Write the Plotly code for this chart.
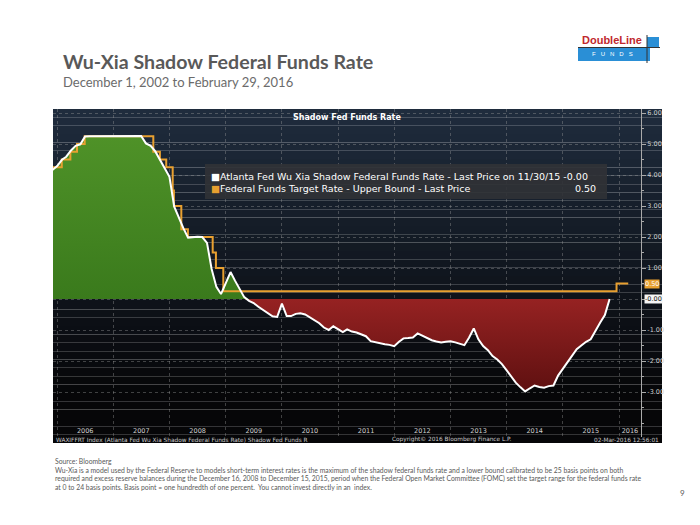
import plotly.graph_objects as go
import pandas as pd

# ---------------- data ----------------
shadow_first_month = "2005-12-01"
shadow_rate = [
    4.16,
    4.29, 4.49, 4.59, 4.79, 4.94, 4.99, 5.24, 5.25, 5.25, 5.25, 5.25, 5.24,
    5.25, 5.26, 5.26, 5.25, 5.25, 5.25, 5.26, 5.02, 4.94, 4.76, 4.49, 4.24,
    3.94, 2.98, 2.61, 2.28, 1.98, 2.00, 2.01, 2.00, 1.81, 0.97, 0.39, 0.16,
    0.52, 0.87, 0.60, 0.33, 0.06, -0.06, -0.13, -0.25, -0.36, -0.45, -0.56, -0.58,
    -0.15, -0.55, -0.55, -0.48, -0.46, -0.50, -0.60, -0.68, -0.78, -0.92, -1.00, -0.88,
    -0.98, -1.07, -0.98, -1.05, -1.08, -1.14, -1.20, -1.36, -1.40, -1.43, -1.46, -1.48,
    -1.52, -1.38, -1.27, -1.26, -1.24, -1.11, -1.18, -1.26, -1.33, -1.37, -1.40, -1.38,
    -1.36, -1.40, -1.44, -1.49, -1.25, -0.95, -1.30, -1.52, -1.65, -1.84, -1.95, -2.10,
    -2.30, -2.50, -2.70, -2.85, -2.98, -2.88, -2.79, -2.84, -2.86, -2.81, -2.79, -2.47,
    -2.25, -2.03, -1.82, -1.62, -1.50, -1.38, -1.30, -1.02, -0.76, -0.52, 0.00,
]

target_dates = [
    "2005-12-01", "2006-01-31", "2006-03-28", "2006-05-10", "2006-06-29",
    "2007-09-18", "2007-10-31", "2007-12-11", "2008-01-22", "2008-01-30",
    "2008-03-18", "2008-04-30", "2008-10-08", "2008-10-29", "2008-12-16",
    "2015-12-16", "2016-03-01",
]
target_upper = [
    4.25, 4.50, 4.75, 5.00, 5.25,
    4.75, 4.50, 4.25, 3.50, 3.00,
    2.25, 2.00, 1.50, 1.00, 0.25,
    0.50, 0.50,
]

year_labels = ["2006", "2007", "2008", "2009", "2010", "2011",
               "2012", "2013", "2014", "2015", "2016"]
year_label_dates = ["2006-07-02", "2007-07-02", "2008-07-02", "2009-07-02",
                    "2010-07-02", "2011-07-02", "2012-07-02", "2013-07-02",
                    "2014-07-02", "2015-07-02", "2016-03-12"]
year_starts = ["2006-01-01", "2007-01-01", "2008-01-01", "2009-01-01",
               "2010-01-01", "2011-01-01", "2012-01-01", "2013-01-01",
               "2014-01-01", "2015-01-01", "2016-01-01"]

y_ticks = [-3, -2, -1, 0, 1, 2, 3, 4, 5, 6]
y_tick_text = ["-3.00", "-2.00", "-1.00", "", "1.00", "2.00",
               "3.00", "4.00", "5.00", "6.00"]

shadow_dates = pd.date_range(shadow_first_month, periods=len(shadow_rate), freq="MS")
pos_part = [max(v, 0) for v in shadow_rate]
neg_part = [min(v, 0) for v in shadow_rate]

# ---------------- geometry helpers (reference pixel -> paper) ----------------
OFF = 8  # page body margin
L, R, T, B = 53, 641, 109, 437
W, H = R - L, B - T


def xp(px):
    return (px - L) / W


def yp(py):
    return (B - py) / H


fig = go.Figure()

fig.add_trace(go.Scatter(x=shadow_dates, y=pos_part, mode="lines",
                         line=dict(width=0), fill="tozeroy",
                         fillgradient=dict(type="vertical", start=0, stop=5.3,
                                           colorscale=[[0, "#3a7a1c"], [1, "#4f9228"]]),
                         hoverinfo="skip", showlegend=False))
fig.add_trace(go.Scatter(x=shadow_dates, y=neg_part, mode="lines",
                         line=dict(width=0), fill="tozeroy",
                         fillgradient=dict(type="vertical", start=-3.0, stop=0,
                                           colorscale=[[0, "#5e1010"], [1, "#962222"]]),
                         hoverinfo="skip", showlegend=False))
fig.add_trace(go.Scatter(x=target_dates, y=target_upper, mode="lines",
                         line=dict(color="#e8a030", width=2, shape="hv"),
                         name="Federal Funds Target Rate - Upper Bound", showlegend=False))
fig.add_trace(go.Scatter(x=shadow_dates, y=shadow_rate, mode="lines",
                         line=dict(color="#ffffff", width=2),
                         name="Atlanta Fed Wu Xia Shadow Federal Funds Rate", showlegend=False))

shapes = []
# dark gradient panel
n = 40
top_c = (31, 44, 61)
bot_c = (6, 6, 8)
py0, py1 = 109, 443
for i in range(n):
    a = py0 + (py1 - py0) * i / n
    b = py0 + (py1 - py0) * (i + 1) / n
    t = i / (n - 1)
    t = min(1.0, t * 1.15)
    c = tuple(int(top_c[k] + (bot_c[k] - top_c[k]) * t) for k in range(3))
    shapes.append(dict(type="rect", xref="paper", yref="paper",
                       x0=xp(53), x1=xp(662), y0=yp(b), y1=yp(a),
                       fillcolor="rgb(%d,%d,%d)" % c, line=dict(width=0),
                       layer="below"))
# legend box
shapes.append(dict(type="rect", xref="paper", yref="paper",
                   x0=xp(205), x1=xp(607), y0=yp(199), y1=yp(164),
                   fillcolor="rgba(48,50,54,0.92)", line=dict(width=0)))
# logo
shapes.append(dict(type="rect", xref="paper", yref="paper",
                   x0=xp(578), x1=xp(650), y0=yp(61), y1=yp(48),
                   fillcolor="#2a8fd6", line=dict(width=0)))
shapes.append(dict(type="rect", xref="paper", yref="paper",
                   x0=xp(647), x1=xp(659), y0=yp(47), y1=yp(37),
                   fillcolor="#2a8fd6", line=dict(width=0)))
shapes.append(dict(type="line", xref="paper", yref="paper",
                   x0=xp(578), x1=xp(660), y0=yp(47.5), y1=yp(47.5),
                   line=dict(color="#333333", width=1)))
shapes.append(dict(type="line", xref="paper", yref="paper",
                   x0=xp(647), x1=xp(647), y0=yp(63), y1=yp(35),
                   line=dict(color="#333333", width=1)))

ann = []
ann.append(dict(text="<b>Wu-Xia Shadow Federal Funds Rate</b>", x=xp(61), y=yp(61),
                xanchor="left", yanchor="middle",
                font=dict(family="Lato", size=19.6, color="#595959")))
ann.append(dict(text="December 1, 2002 to February 29, 2016", x=xp(61), y=yp(82),
                xanchor="left", yanchor="middle",
                font=dict(family="Lato", size=13, color="#6b6b6b")))
ann.append(dict(text="<b>DoubleLine</b>", x=xp(612), y=yp(40),
                xanchor="center", yanchor="middle",
                font=dict(family="Liberation Sans", size=11, color="#c0282d")))
ann.append(dict(text="F&nbsp;&nbsp;&nbsp;U&nbsp;&nbsp;&nbsp;N&nbsp;&nbsp;&nbsp;D&nbsp;&nbsp;&nbsp;S",
                x=xp(612), y=yp(54.5), xanchor="center", yanchor="middle",
                font=dict(family="Liberation Sans", size=6, color="#ffffff")))
ann.append(dict(text="<b>Shadow Fed Funds Rate</b>", x=xp(347), y=yp(117),
                xanchor="center", yanchor="middle",
                font=dict(family="DejaVu Sans", size=8, color="#ffffff")))
leg_font = dict(family="DejaVu Sans", size=9.5, color="#ffffff")
ann.append(dict(text="<span style='color:#ffffff'>■</span>Atlanta Fed Wu Xia Shadow Federal Funds Rate - Last Price on 11/30/15 -0.00",
                x=xp(209), y=yp(176), xanchor="left", yanchor="middle", font=leg_font))
ann.append(dict(text="<span style='color:#e8a030'>■</span>Federal Funds Target Rate - Upper Bound - Last Price",
                x=xp(209), y=yp(188), xanchor="left", yanchor="middle", font=leg_font))
ann.append(dict(text="0.50", x=xp(598), y=yp(188), xanchor="right", yanchor="middle",
                font=leg_font))
# last-value boxes on the right axis
ann.append(dict(text="0.50", x=xp(644), y=yp(283.5), xanchor="left", yanchor="middle",
                bgcolor="#e8a030", borderpad=0,
                font=dict(family="DejaVu Sans", size=6.5, color="#ffffff")))
ann.append(dict(text="-0.00", x=xp(644), y=yp(299), xanchor="left", yanchor="middle",
                bgcolor="#f4f4f4", borderpad=0,
                font=dict(family="DejaVu Sans", size=6.5, color="#111111")))
# bloomberg footer band
band_font = dict(family="DejaVu Sans", size=5.8, color="#c8c8c8")
ann.append(dict(text="WAXIFFRT Index (Atlanta Fed Wu Xia Shadow Federal Funds Rate) Shadow Fed Funds R",
                x=xp(54), y=yp(439.5), xanchor="left", yanchor="middle", font=band_font))
ann.append(dict(text="Copyright© 2016 Bloomberg Finance L.P.",
                x=xp(390), y=yp(439.5), xanchor="left", yanchor="middle", font=band_font))
ann.append(dict(text="02-Mar-2016 12:56:01",
                x=xp(661), y=yp(439.5), xanchor="right", yanchor="middle", font=band_font))
# notes
note_font = dict(family="Lato", size=6.8, color="#595959")
notes = [
    "Source: Bloomberg",
    "Wu-Xia is a model used by the Federal Reserve to models short-term interest rates is the maximum of the shadow federal funds rate and a lower bound calibrated to be 25 basis points on both",
    "required and excess reserve balances during the December 16, 2008 to December 15, 2015, period when the Federal Open Market Committee (FOMC) set the target range for the federal funds rate",
    "at 0 to 24 basis points. Basis point = one hundredth of one percent.  You cannot invest directly in an  index.",
]
for i, t in enumerate(notes):
    ann.append(dict(text=t, x=xp(53), y=yp(461 + 8.8 * i), xanchor="left", yanchor="middle",
                    font=note_font))
ann.append(dict(text="9", x=xp(682), y=yp(493), xanchor="center", yanchor="middle",
                font=dict(family="Lato", size=8, color="#595959")))

for a in ann:
    a.update(xref="paper", yref="paper", showarrow=False)

grid_c = "rgba(160,160,160,0.38)"
fig.update_layout(
    width=700, height=525,
    margin=dict(l=L - OFF, r=700 - (R - OFF), t=T - OFF, b=525 - (B - OFF), pad=0),
    paper_bgcolor="#ffffff",
    plot_bgcolor="rgba(0,0,0,0)",
    shapes=shapes,
    annotations=ann,
    showlegend=False,
    xaxis=dict(
        type="date",
        range=["2005-12-05", "2016-05-23"],
        tickvals=year_label_dates, ticktext=year_labels,
        ticklabelposition="inside", ticks="",
        tickfont=dict(family="DejaVu Sans", size=6.5, color="#d0d0d0"),
        showgrid=False, zeroline=False, showline=False,
        minor=dict(tickvals=year_starts, showgrid=True, gridcolor=grid_c,
                   griddash="dot", gridwidth=1, ticks=""),
    ),
    yaxis=dict(
        side="right",
        range=[(299 - 437) / 31.0, (299 - 109) / 31.0],
        tickvals=y_ticks, ticktext=y_tick_text,
        tickfont=dict(family="DejaVu Sans", size=6.5, color="#d0d0d0"),
        ticks="outside", ticklen=4, tickcolor="#aaaaaa",
        showgrid=True, gridcolor=grid_c, griddash="dot",
        zeroline=False, showline=True, linecolor="#aaaaaa", linewidth=1,
        minor=dict(dtick=0.5, ticks="outside", ticklen=2, tickcolor="#aaaaaa",
                   showgrid=False),
    ),
)

fig.write_html("out.html")
